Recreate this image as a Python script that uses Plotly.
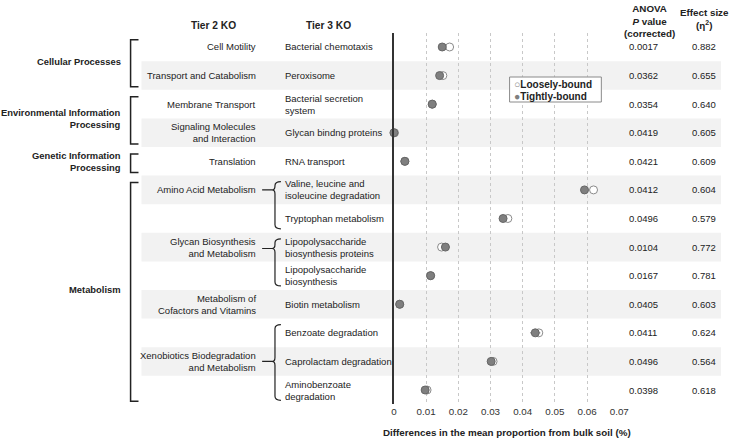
import plotly.graph_objects as go

# ── Data ──────────────────────────────────────────────────────────────────────
tier1 = ["Cellular Processes", "Environmental Information<br>Processing",
         "Genetic Information<br>Processing", "Metabolism"]
tier1_rows = [(1, 2), (3, 4), (5, 5), (6, 13)]

tier2 = ["Cell Motility", "Transport and Catabolism", "Membrane Transport",
         "Signaling Molecules<br>and Interaction", "Translation",
         "Amino Acid Metabolism", "Glycan Biosynthesis<br>and Metabolism",
         "Metabolism of<br>Cofactors and Vitamins",
         "Xenobiotics Biodegradation<br>and Metabolism"]
tier2_rows = [1, 2, 3, 4, 5, 6, 8, 10, 12]
# tier 2 groups that fan out to several tier 3 rows: (first, last, pointer row)
brace_rows = [(6, 7, 6.0), (8, 9, 8.05), (11, 13, 12.0)]

tier3 = ["Bacterial chemotaxis", "Peroxisome", "Bacterial secretion<br>system",
         "Glycan bindng proteins", "RNA transport",
         "Valine, leucine and<br>isoleucine degradation", "Tryptophan metabolism",
         "Lipopolysaccharide<br>biosynthesis proteins",
         "Lipopolysaccharide<br>biosynthesis", "Biotin metabolism",
         "Benzoate degradation", "Caprolactam degradation",
         "Aminobenzoate<br>degradation"]

loosely = [0.0173, 0.0152, 0.0119, 0.0002, 0.0034, 0.0620, 0.0354,
           0.0148, 0.0114, 0.0018, 0.0450, 0.0308, 0.0103]
tightly = [0.0150, 0.0142, 0.0119, 0.0000, 0.0034, 0.0592, 0.0339,
           0.0160, 0.0114, 0.0018, 0.0439, 0.0302, 0.0097]
tight_err = [0.0004, 0.0004, 0.0003, 0.0002, 0.0002, 0.0008, 0.0005,
             0.0013, 0.0003, 0.0002, 0.0016, 0.0005, 0.0004]

p_values = ["0.0017", "0.0362", "0.0354", "0.0419", "0.0421", "0.0412", "0.0496",
            "0.0104", "0.0167", "0.0405", "0.0411", "0.0496", "0.0398"]
effect = ["0.882", "0.655", "0.640", "0.605", "0.609", "0.604", "0.579",
          "0.772", "0.781", "0.603", "0.624", "0.564", "0.618"]

x_ticks = [0, 0.01, 0.02, 0.03, 0.04, 0.05, 0.06, 0.07]

# ── Layout helpers ────────────────────────────────────────────────────────────
W, H = 733, 439
XW = 722                            # effective width the page lays out at
XW_LEFT = 728                       # slightly different fit for the label block
N = len(tier3)
rows = list(range(1, N + 1))
Y_TOP, Y_BOT = 32.7, 404.3          # pixel extent of the row area
X0, X1 = 392, 618                   # pixel extent of the x axis (0 → 0.07)
FONT = "Liberation Sans, Arial, sans-serif"
INK = "#222222"
FS = 9.5                            # label font size


def px(x):
    return x / (XW_LEFT if x < 300 else XW)


def py(y):
    return 1 - y / H


def row_px(r):
    """pixel y of a (fractional) row centre."""
    return Y_TOP + (r - 0.5) * (Y_BOT - Y_TOP) / N


def note(x, y, text, yref="paper", xanchor="center", size=FS, align="center"):
    return dict(xref="paper", yref=yref, x=x, y=y, text=text, showarrow=False,
                xanchor=xanchor, yanchor="middle", align=align,
                font=dict(size=size, color=INK))


fig = go.Figure()

fig.add_trace(go.Scatter(
    x=loosely, y=rows, mode="markers", name="Loosely-bound",
    marker=dict(size=8, color="white", line=dict(color="#8a8a8a", width=1)),
    cliponaxis=False, showlegend=False,
))
fig.add_trace(go.Scatter(
    x=tightly, y=rows, mode="markers", name="Tightly-bound",
    marker=dict(size=8, color="#7f7f7f", line=dict(color="#666666", width=1)),
    error_x=dict(type="data", array=tight_err, color="#888888", thickness=1, width=0),
    cliponaxis=False, showlegend=False,
))

shapes = []
annotations = []

# alternating shaded rows
for r in rows:
    if r % 2 == 0:
        shapes.append(dict(type="rect", xref="paper", yref="paper",
                           x0=px(140), x1=px(720),
                           y0=py(row_px(r + 0.5)), y1=py(row_px(r - 0.5)),
                           fillcolor="#f2f2f2", line_width=0, layer="below"))

# tier 1 square brackets and labels
for label, (a, b) in zip(tier1, tier1_rows):
    yt = row_px(a - 0.5) + 7
    yb = row_px(b + 0.5) - 3
    path = (f"M {px(137)},{py(yt)} L {px(129)},{py(yt)} "
            f"L {px(129)},{py(yb)} L {px(137)},{py(yb)}")
    shapes.append(dict(type="path", xref="paper", yref="paper", path=path,
                       line=dict(color=INK, width=1.5)))
    annotations.append(note(px(121), (a + b) / 2, f"<b>{label}</b>", yref="y",
                            xanchor="right", align="right", size=9.4))

# tier 2 → tier 3 curly braces
for a, b, pr in brace_rows:
    yt = row_px(a - 0.5) + 6
    yb = row_px(b + 0.5) - 4
    yp = row_px(pr)
    xv, xe, xd = 275, 281, 262
    path = (f"M {px(xe)},{py(yt)} Q {px(xv)},{py(yt)} {px(xv)},{py(yt + 4)} "
            f"L {px(xv)},{py(yp - 4)} Q {px(xv)},{py(yp)} {px(xv - 3)},{py(yp)} "
            f"L {px(xd)},{py(yp)} M {px(xv - 3)},{py(yp)} "
            f"Q {px(xv)},{py(yp)} {px(xv)},{py(yp + 4)} "
            f"L {px(xv)},{py(yb - 4)} Q {px(xv)},{py(yb)} {px(xe)},{py(yb)}")
    shapes.append(dict(type="path", xref="paper", yref="paper", path=path,
                       line=dict(color=INK, width=1.2)))

# tier 2 labels
for label, r in zip(tier2, tier2_rows):
    annotations.append(note(px(258), r, label, yref="y", xanchor="right", align="right"))

# tier 3 labels, p values, effect sizes
for r, t3, p, e in zip(rows, tier3, p_values, effect):
    annotations.append(note(px(283), r, t3, yref="y", xanchor="left", align="left"))
    annotations.append(note(px(642), r, p, yref="y"))
    annotations.append(note(px(703), r, e, yref="y"))

# column headers
annotations += [
    note(px(213), py(25), "<b>Tier 2 KO</b>", size=10.2),
    note(px(326), py(25), "<b>Tier 3 KO</b>", size=10.2),
    note(px(648), py(21), "<b>ANOVA<br><i>P</i> value<br>(corrected)</b>", size=9.8),
    note(px(703), py(19), "<b>Effect size<br>(η<sup>2</sup>)</b>", size=9.8),
    note(px((X0 + X1) / 2), py(432),
         "<b>Differences in the mean proportion from bulk soil (%)</b>", size=9.8),
]

# legend box
shapes.append(dict(type="rect", xref="paper", yref="paper",
                   x0=px(508), x1=px(600), y0=py(102), y1=py(77),
                   fillcolor="white", line=dict(color="#8a8a8a", width=1)))
annotations += [
    note(px(510), py(84),
         "<span style='font-size:10.5px;color:#8a8a8a'>○</span><b>Loosely-bound</b>",
         xanchor="left", align="left", size=10),
    note(px(510), py(96.5),
         "<span style='font-size:10.5px;color:#7f7f7f'>●</span><b>Tightly-bound</b>",
         xanchor="left", align="left", size=10),
]

fig.update_layout(
    width=W, height=H, autosize=False,
    margin=dict(l=0, r=0, t=0, b=0),
    paper_bgcolor="white", plot_bgcolor="rgba(0,0,0,0)",
    font=dict(family=FONT, size=FS, color=INK),
    shapes=shapes, annotations=annotations,
    showlegend=False,
    xaxis=dict(domain=[px(X0), px(X1)], range=[0, 0.07],
               tickvals=x_ticks, ticktext=[f"{v:g}" for v in x_ticks],
               tickfont=dict(size=9.8, color="#333333"),
               showgrid=True, gridcolor="#c8c8c8", griddash="dot", gridwidth=1,
               zeroline=False, showline=False, ticks=""),
    yaxis=dict(domain=[py(Y_BOT), py(Y_TOP)], range=[N + 0.5, 0.5],
               showticklabels=False, showgrid=False, zeroline=False,
               showline=True, linecolor="#333333", linewidth=1.5, ticks=""),
)

# page body has a default 8px margin; drop it so the figure sits at the corner
fig.write_html(
    "out.html",
    config={"displayModeBar": False, "responsive": False},
    post_script="document.body.style.margin='0px';"
                "document.body.style.overflow='hidden';",
)
